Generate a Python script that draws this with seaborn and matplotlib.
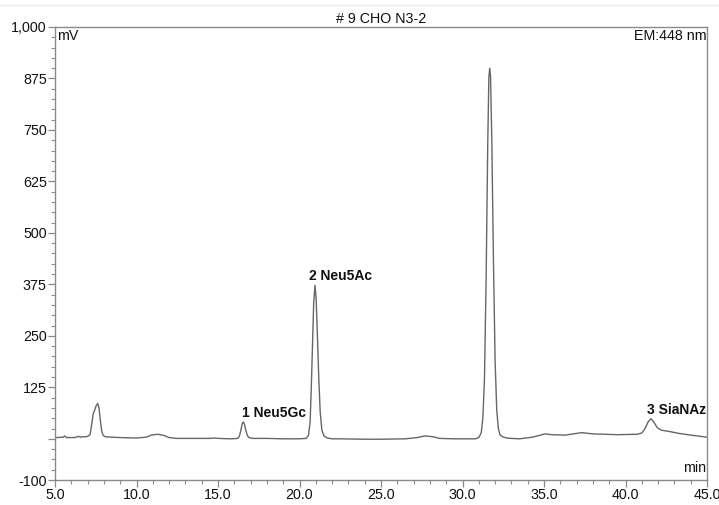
import numpy as np
import pandas as pd
import matplotlib
matplotlib.use("Agg")
import matplotlib.pyplot as plt
from matplotlib.ticker import MultipleLocator, FixedLocator
from matplotlib.lines import Line2D
import seaborn as sns

# Chromatogram trace: retention time (min) and detector signal (mV)
time_min = [
    5.0, 5.5, 5.6, 5.7, 6.2, 6.45, 6.55, 6.7, 6.9,
    7.0, 7.15, 7.25, 7.35, 7.42, 7.52, 7.62, 7.7, 7.78, 7.87, 7.96, 8.1,
    8.5, 9.0, 10.0, 10.6, 10.9, 11.3, 11.7, 12.0, 12.5, 13.5, 14.5, 14.8, 15.0, 15.8,
    16.2, 16.3, 16.4, 16.48, 16.55, 16.62, 16.7, 16.8, 16.9, 17.1,
    18.0, 19.0, 20.0, 20.4, 20.55, 20.65, 20.72, 20.8, 20.87, 20.95, 21.02, 21.1,
    21.18, 21.27, 21.37, 21.5, 21.7, 22.0,
    22.5, 24.0, 25.0, 26.5, 27.2, 27.7, 28.2, 28.6, 29.5, 30.5,
    30.8, 31.0, 31.15, 31.25, 31.35, 31.45, 31.55, 31.62, 31.67, 31.72, 31.8,
    31.9, 32.0, 32.1, 32.2, 32.3, 32.45, 32.7, 33.0,
    33.5, 34.3, 35.06, 35.5, 36.3, 37.3, 38.0, 39.5, 40.7,
    41.0, 41.2, 41.4, 41.56, 41.75, 41.95, 42.2, 42.8, 43.3, 44.0, 45.0,
]
signal_mv = [
    3, 4, 7, 3, 3, 6, 4, 5, 5,
    6, 10, 35, 62, 68, 80, 86, 75, 45, 18, 8, 5,
    4, 3, 2, 4, 9, 11, 8, 3, 1, 1, 1, 2, 1, 0,
    1, 5, 20, 36, 41, 36, 22, 8, 3, 1,
    1, 0, 0, 1, 8, 40, 120, 230, 330, 373, 340, 250,
    150, 65, 22, 7, 2, 0,
    0, -1, -1, 0, 3, 7, 5, 1, 0, 0,
    0, 3, 15, 50, 150, 390, 720, 880, 900, 880, 720,
    430, 190, 70, 25, 10, 5, 2, 1,
    0, 4, 12, 10, 9, 15, 12, 10, 11,
    14, 25, 42, 49, 40, 27, 21, 17, 13, 9, 4,
]

# Identified peaks
peak_labels = ["1 Neu5Gc", "2 Neu5Ac", "3 SiaNAz"]
peak_times = [16.55, 20.95, 41.56]
label_offsets_pt = [(-1, 1.5), (-4.5, 1.5), (-2.5, 1.5)]

y_ticks = [-100, 0, 125, 250, 375, 500, 625, 750, 875, 1000]
y_tick_labels = ["-100", "", "125", "250", "375", "500", "625", "750", "875", "1,000"]
x_ticks = [5, 10, 15, 20, 25, 30, 35, 40, 45]
x_tick_labels = ["5.0", "10.0", "15.0", "20.0", "25.0", "30.0", "35.0", "40.0", "45.0"]

sns.set_style("ticks")
plt.rcParams["font.family"] = ["Liberation Sans", "DejaVu Sans"]
plt.rcParams["font.size"] = 10

trace = pd.DataFrame({"time": time_min, "signal": signal_mv})

fig = plt.figure(figsize=(7.19, 5.05), dpi=100)
ax = fig.add_axes([55 / 719, 1 - 480 / 505, 652 / 719, 453 / 505])

sns.lineplot(data=trace, x="time", y="signal", ax=ax, color="#666666",
             linewidth=1.0, estimator=None, sort=False)

ax.set_xlim(5, 45)
ax.set_ylim(-100, 1000)
ax.set_xlabel("")
ax.set_ylabel("")

ax.xaxis.set_major_locator(FixedLocator(x_ticks))
ax.set_xticklabels(x_tick_labels)
ax.xaxis.set_minor_locator(MultipleLocator(1))
ax.yaxis.set_major_locator(FixedLocator(y_ticks))
ax.set_yticklabels(y_tick_labels)
ax.yaxis.set_minor_locator(MultipleLocator(25))

spine_color = "#8a8a8a"
for side in ["left", "right", "top", "bottom"]:
    ax.spines[side].set_visible(True)
    ax.spines[side].set_color(spine_color)
    ax.spines[side].set_linewidth(1.0)
ax.tick_params(axis="both", which="major", length=5, width=0.9, color=spine_color,
               labelsize=10.3, labelcolor="#111111", pad=1)
ax.tick_params(axis="both", which="minor", length=3, width=0.8, color=spine_color)

ax.set_title("# 9 CHO N3-2", fontsize=10.3, color="#111111", pad=3)
ax.text(0.003, 0.995, "mV", transform=ax.transAxes, ha="left", va="top",
        fontsize=10.3, color="#111111")
ax.text(1.0, 0.995, "EM:448 nm", transform=ax.transAxes, ha="right", va="top",
        fontsize=10.3, color="#111111")
ax.text(0.998, 0.01, "min", transform=ax.transAxes, ha="right", va="bottom",
        fontsize=10.3, color="#111111")

for label, t, off in zip(peak_labels, peak_times, label_offsets_pt):
    h = np.interp(t, time_min, signal_mv)
    ax.annotate(label, xy=(t, h), xytext=off, textcoords="offset points",
                ha="left", va="bottom", fontsize=10, fontweight="bold",
                color="#111111")

# thin page edge line along the top
fig.add_artist(Line2D([0, 1], [1 - 5 / 505, 1 - 5 / 505], transform=fig.transFigure,
                      color="#ececec", linewidth=1.0))

fig.savefig("out.png", dpi=100, facecolor="white")
